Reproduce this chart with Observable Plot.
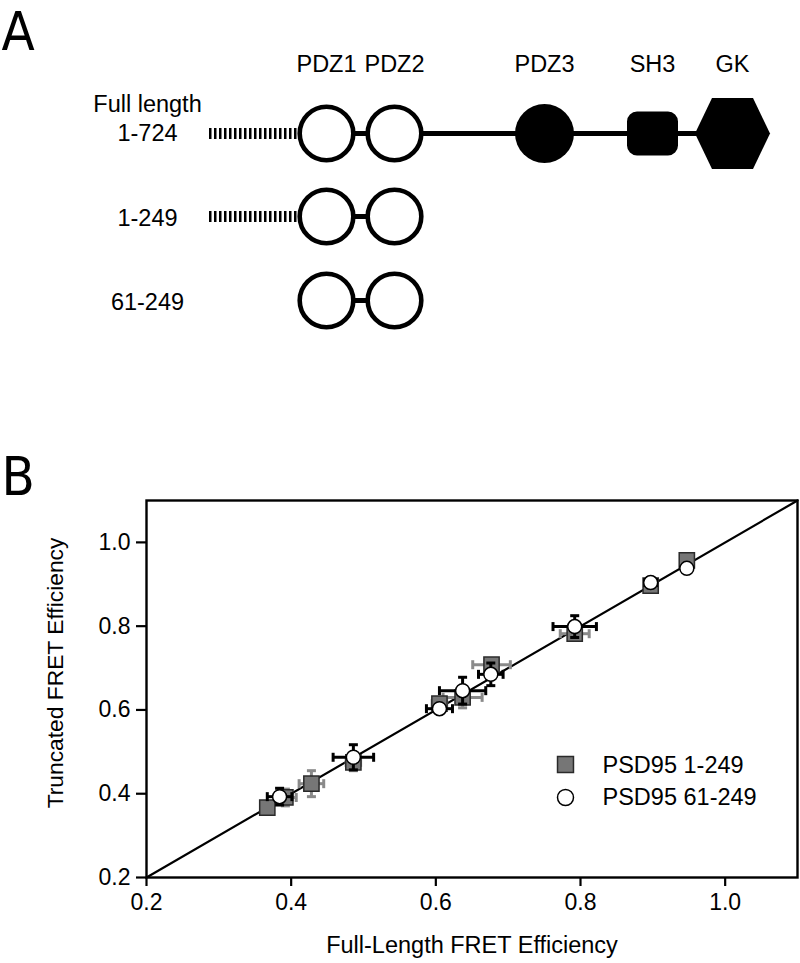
<!DOCTYPE html>
<html><head><meta charset="utf-8">
<script src="https://cdn.jsdelivr.net/npm/d3@7"></script>
<script src="https://cdn.jsdelivr.net/npm/@observablehq/plot@0.6"></script>
<style>
body{margin:0;background:#fff}
svg{display:block}
[aria-label$="axis tick"]{stroke-width:2.2px}
</style>
</head><body><div id="chart"></div>
<script>
// ---------- Panel A: domain schematic ----------
const domainNames = ["PDZ1", "PDZ2", "PDZ3", "SH3", "GK"];
const domainKinds = ["open", "open", "filled", "sh3", "gk"];
const constructNames = ["Full length\n1-724", "1-249", "61-249"];
const constructDomains = [["PDZ1", "PDZ2", "PDZ3", "SH3", "GK"], ["PDZ1", "PDZ2"], ["PDZ1", "PDZ2"]];
const constructNTerm = [true, true, false];

// ---------- Panel B: FRET efficiencies ----------
const xTicks = [0.2, 0.4, 0.6, 0.8, 1.0];
const yTicks = [0.2, 0.4, 0.6, 0.8, 1.0];
const axisDomain = [0.2, 1.1];

const seriesNames = ["PSD95 1-249", "PSD95 61-249"];

const full249 = [0.367, 0.392, 0.428, 0.486, 0.605, 0.637, 0.677, 0.792, 0.897, 0.947];
const trunc249 = [0.367, 0.391, 0.424, 0.475, 0.615, 0.630, 0.708, 0.782, 0.897, 0.957];
const full249Err = [0.005, 0.015, 0.017, 0.010, 0.010, 0.027, 0.026, 0.020, 0.008, 0.005];
const trunc249Err = [0.005, 0.020, 0.031, 0.020, 0.010, 0.025, 0.010, 0.012, 0.008, 0.005];

const full61 = [0.384, 0.486, 0.605, 0.637, 0.676, 0.792, 0.897, 0.947];
const trunc61 = [0.393, 0.487, 0.603, 0.646, 0.685, 0.799, 0.904, 0.938];
const full61Err = [0.017, 0.028, 0.018, 0.032, 0.017, 0.030, 0.008, 0.004];
const trunc61Err = [0.020, 0.030, 0.010, 0.032, 0.027, 0.026, 0.012, 0.004];

// ---------- layout (schematic geometry) ----------
const domainCenterX = {PDZ1: 326, PDZ2: 394, PDZ3: 544, SH3: 652, GK: 732};
const rowY = [133, 216, 300];
const FONT = "'Liberation Sans', Arial, Helvetica, sans-serif";
const LETTER_FONT = "'Liberation Sans Narrow', 'DejaVu Sans Condensed', sans-serif";

const roundedRect = {draw(ctx) {
  const w = 25.5, h = 22, c = 10;
  ctx.moveTo(-w + c, -h); ctx.lineTo(w - c, -h); ctx.arcTo(w, -h, w, -h + c, c);
  ctx.lineTo(w, h - c); ctx.arcTo(w, h, w - c, h, c);
  ctx.lineTo(-w + c, h); ctx.arcTo(-w, h, -w, h - c, c);
  ctx.lineTo(-w, -h + c); ctx.arcTo(-w, -h, -w + c, -h, c);
  ctx.closePath();
}};
const hexagon = {draw(ctx) {
  const w = 37.5, e = 20.5, h = 35.5;
  ctx.moveTo(-w, 0); ctx.lineTo(-e, -h); ctx.lineTo(e, -h); ctx.lineTo(w, 0);
  ctx.lineTo(e, h); ctx.lineTo(-e, h); ctx.closePath();
}};
const hCap = {draw(ctx, size) { const r = Math.sqrt(size / Math.PI); ctx.moveTo(-r, 0); ctx.lineTo(r, 0); }};
const vCap = {draw(ctx, size) { const r = Math.sqrt(size / Math.PI); ctx.moveTo(0, -r); ctx.lineTo(0, r); }};

const elements = [];
constructDomains.forEach((ds, row) => ds.forEach(name => {
  elements.push({row, name, kind: domainKinds[domainNames.indexOf(name)]});
}));
const rows = constructNames.map((label, row) => ({
  row, label, nterm: constructNTerm[row],
  first: constructDomains[row][0], last: constructDomains[row][constructDomains[row].length - 1],
  lines: label.split("\n").length
}));

const ex = d => domainCenterX[d.name];
const ey = d => rowY[d.row];

const panelA = Plot.plot({
  width: 800, height: 440, margin: 0,
  style: {fontFamily: FONT, background: "#fff", color: "#000"},
  x: {domain: [0, 800], range: [0, 800], axis: null},
  y: {domain: [0, 440], range: [0, 440], axis: null},
  marks: [
    Plot.text(["A"], {frameAnchor: "top-left", lineAnchor: "top", textAnchor: "start", dx: 1, dy: 11,
      fontSize: 54, fontFamily: LETTER_FONT, fill: "#000"}),
    Plot.text(domainNames, {x: d => domainCenterX[d], y: 64, fontSize: 23.5, lineAnchor: "middle", fill: "#000"}),
    Plot.text(rows, {x: 147, y: d => rowY[d.row] - (d.lines - 1) * 16, text: "label", fontSize: 23.5,
      lineAnchor: "middle", lineHeight: 1.23, fill: "#000"}),
    Plot.ruleY(rows.filter(d => d.nterm), {y: d => rowY[d.row], x1: 209, x2: 298, stroke: "#000",
      strokeWidth: 11, strokeDasharray: "2.5,2.5"}),
    Plot.ruleY(rows, {y: d => rowY[d.row], x1: d => domainCenterX[d.first], x2: d => domainCenterX[d.last],
      stroke: "#000", strokeWidth: 5}),
    Plot.dot(elements.filter(d => d.kind === "open"), {x: ex, y: ey, r: 26.8, fill: "#fff", stroke: "#000", strokeWidth: 4.6}),
    Plot.dot(elements.filter(d => d.kind === "filled"), {x: ex, y: ey, r: 29.5, fill: "#000"}),
    Plot.dot(elements.filter(d => d.kind === "sh3"), {x: ex, y: ey, r: 20, symbol: roundedRect, fill: "#000"}),
    Plot.dot(elements.filter(d => d.kind === "gk"), {x: ex, y: ey, r: 30, symbol: hexagon, fill: "#000"})
  ]
});

// ---------- Panel B ----------
const s1 = full249.map((f, i) => ({f, t: trunc249[i], fe: full249Err[i], te: trunc249Err[i]}));
const s2 = full61.map((f, i) => ({f, t: trunc61[i], fe: full61Err[i], te: trunc61Err[i]}));
const gray = "#8a8a8a";

function errorBars(data, color) {
  return [
    Plot.ruleY(data, {y: "t", x1: d => d.f - d.fe, x2: d => d.f + d.fe, stroke: color, strokeWidth: 3}),
    Plot.ruleX(data, {x: "f", y1: d => d.t - d.te, y2: d => d.t + d.te, stroke: color, strokeWidth: 3}),
    Plot.dot(data, {x: d => d.f - d.fe, y: "t", symbol: vCap, r: 4.5, stroke: color, strokeWidth: 3, fill: "none"}),
    Plot.dot(data, {x: d => d.f + d.fe, y: "t", symbol: vCap, r: 4.5, stroke: color, strokeWidth: 3, fill: "none"}),
    Plot.dot(data, {x: "f", y: d => d.t - d.te, symbol: hCap, r: 4.5, stroke: color, strokeWidth: 3, fill: "none"}),
    Plot.dot(data, {x: "f", y: d => d.t + d.te, symbol: hCap, r: 4.5, stroke: color, strokeWidth: 3, fill: "none"})
  ];
}

const panelB = Plot.plot({
  width: 800, height: 523,
  marginLeft: 146, marginRight: 3, marginTop: 60, marginBottom: 86,
  style: {fontFamily: FONT, fontSize: "23px", background: "#fff", color: "#000"},
  x: {domain: axisDomain, ticks: xTicks, tickFormat: d3.format(".1f"), tickSize: 9, tickPadding: 7, label: null},
  y: {domain: axisDomain, ticks: yTicks, tickFormat: d3.format(".1f"), tickSize: 10, tickPadding: 6, label: null},
  marks: [
    Plot.line(axisDomain, {x: d => d, y: d => d, stroke: "#000", strokeWidth: 2.2}),
    Plot.frame({stroke: "#000", strokeWidth: 2.4}),
    ...errorBars(s1, gray),
    Plot.dot(s1, {x: "f", y: "t", symbol: "square", r: 8.6, fill: "#767676", stroke: "#2a2a2a", strokeWidth: 1.5}),
    ...errorBars(s2, "#000"),
    Plot.dot(s2, {x: "f", y: "t", r: 7, fill: "#fff", stroke: "#000", strokeWidth: 1.5}),
    // legend
    Plot.dot([seriesNames[0]], {frameAnchor: "top-left", dx: 419, dy: 264, symbol: "square", r: 9,
      fill: "#767676", stroke: "#2a2a2a", strokeWidth: 1.5}),
    Plot.dot([seriesNames[1]], {frameAnchor: "top-left", dx: 419, dy: 297, r: 8, fill: "#fff", stroke: "#000", strokeWidth: 1.5}),
    Plot.text([seriesNames[0]], {frameAnchor: "top-left", dx: 456, dy: 265, textAnchor: "start", lineAnchor: "middle", fontSize: 23.5, fill: "#000"}),
    Plot.text([seriesNames[1]], {frameAnchor: "top-left", dx: 456, dy: 297, textAnchor: "start", lineAnchor: "middle", fontSize: 23.5, fill: "#000"}),
    // titles
    Plot.text(["Full-Length FRET Efficiency"], {frameAnchor: "bottom", dy: 68, textAnchor: "middle", lineAnchor: "middle", fontSize: 23.5, fill: "#000"}),
    Plot.text(["Truncated FRET Efficiency"], {frameAnchor: "left", dx: -91, dy: -16, rotate: -90, textAnchor: "middle", lineAnchor: "middle", fontSize: 22.8, fill: "#000"}),
    Plot.text(["B"], {frameAnchor: "top-left", dx: -145, dy: -44, lineAnchor: "top", textAnchor: "start",
      fontSize: 54, fontFamily: LETTER_FONT, fill: "#000"})
  ]
});

document.getElementById("chart").append(panelA, panelB);
</script></body></html>
